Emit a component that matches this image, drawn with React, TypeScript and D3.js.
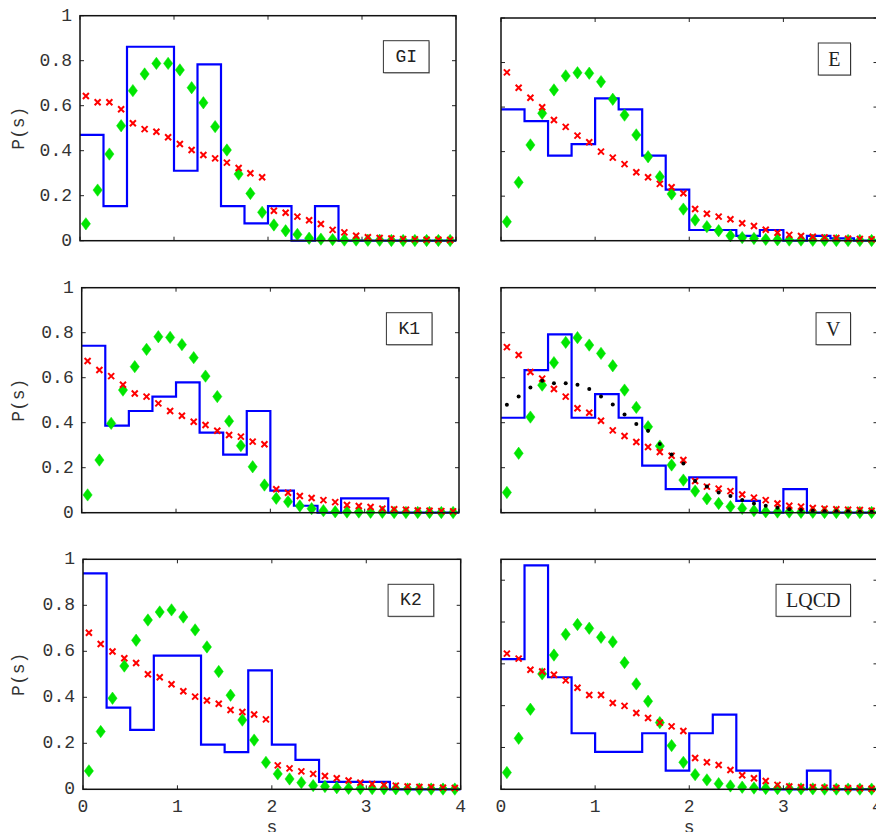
import React from "react";
import * as d3 from "d3";

// ---- shared grids ----
const sCenters = [
  0.0625, 0.1875, 0.3125, 0.4375, 0.5625, 0.6875, 0.8125, 0.9375,
  1.0625, 1.1875, 1.3125, 1.4375, 1.5625, 1.6875, 1.8125, 1.9375,
  2.0625, 2.1875, 2.3125, 2.4375, 2.5625, 2.6875, 2.8125, 2.9375,
  3.0625, 3.1875, 3.3125, 3.4375, 3.5625, 3.6875, 3.8125, 3.9375,
];
const binEdges = [0, 0.25, 0.5, 0.75, 1, 1.25, 1.5, 1.75, 2, 2.25, 2.5, 2.75, 3, 3.25, 3.5, 3.75, 4];
const xTicks = [0, 1, 2, 3, 4];
const yTicks = [0, 0.2, 0.4, 0.6, 0.8, 1];

// ---- GI ----
const giHist = [0.47, 0.154, 0.862, 0.862, 0.311, 0.784, 0.154, 0.077, 0.154, 0, 0.154, 0, 0, 0, 0, 0];
const giGreen = [0.075, 0.225, 0.385, 0.511, 0.667, 0.741, 0.788, 0.788, 0.759, 0.68, 0.613, 0.507, 0.403, 0.296, 0.21, 0.126,
  0.07, 0.044, 0.028, 0.011, 0.007, 0.005, 0.003, 0.003, 0.002, 0.002, 0.001, 0.001, 0.001, 0.001, 0.001, 0.001];
const giRed = [0.643, 0.615, 0.615, 0.584, 0.522, 0.496, 0.484, 0.46, 0.43, 0.403, 0.381, 0.366, 0.347, 0.323, 0.3, 0.282,
  0.133, 0.124, 0.107, 0.091, 0.074, 0.048, 0.037, 0.022, 0.015, 0.012, 0.01, 0.007, 0.006, 0.004, 0.004, 0.003];

// ---- E ----
const eHist = [0.59, 0.537, 0.382, 0.434, 0.639, 0.59, 0.382, 0.229, 0.048, 0.048, 0.022, 0.048, 0, 0.022, 0.01, 0];
const eGreen = [0.085, 0.262, 0.43, 0.572, 0.677, 0.74, 0.754, 0.752, 0.714, 0.635, 0.564, 0.475, 0.377, 0.287, 0.21, 0.142,
  0.093, 0.063, 0.045, 0.022, 0.014, 0.01, 0.006, 0.004, 0.003, 0.003, 0.002, 0.002, 0.001, 0.001, 0.001, 0.001];
const eRed = [0.756, 0.687, 0.642, 0.599, 0.542, 0.511, 0.472, 0.442, 0.4, 0.373, 0.344, 0.307, 0.285, 0.255, 0.24, 0.213,
  0.142, 0.121, 0.108, 0.096, 0.078, 0.066, 0.049, 0.036, 0.026, 0.021, 0.018, 0.015, 0.012, 0.009, 0.008, 0.006];

// ---- K1 ----
const k1Hist = [0.742, 0.387, 0.452, 0.516, 0.579, 0.356, 0.258, 0.452, 0.098, 0.031, 0, 0.064, 0.064, 0, 0, 0];
const k1Green = [0.079, 0.234, 0.397, 0.545, 0.649, 0.726, 0.782, 0.779, 0.747, 0.689, 0.607, 0.516, 0.407, 0.298, 0.204, 0.123,
  0.064, 0.049, 0.03, 0.018, 0.009, 0.004, 0.003, 0.003, 0.002, 0.002, 0.001, 0.001, 0.001, 0.001, 0.001, 0.001];
const k1Red = [0.674, 0.634, 0.607, 0.569, 0.53, 0.516, 0.486, 0.452, 0.431, 0.404, 0.39, 0.364, 0.345, 0.338, 0.316, 0.304,
  0.104, 0.089, 0.074, 0.065, 0.056, 0.047, 0.034, 0.03, 0.025, 0.018, 0.015, 0.013, 0.01, 0.009, 0.007, 0.006];

// ---- V ----
const vHist = [0.422, 0.634, 0.793, 0.422, 0.527, 0.422, 0.209, 0.105, 0.157, 0.157, 0.053, 0, 0.105, 0, 0, 0];
const vGreen = [0.09, 0.264, 0.425, 0.567, 0.667, 0.757, 0.778, 0.745, 0.708, 0.653, 0.545, 0.468, 0.382, 0.296, 0.212, 0.145,
  0.096, 0.062, 0.041, 0.027, 0.019, 0.009, 0.004, 0.003, 0.003, 0.002, 0.002, 0.001, 0.001, 0.001, 0.001, 0.001];
const vRed = [0.736, 0.701, 0.625, 0.596, 0.55, 0.516, 0.464, 0.444, 0.409, 0.366, 0.341, 0.314, 0.292, 0.27, 0.253, 0.234,
  0.141, 0.116, 0.107, 0.096, 0.081, 0.067, 0.056, 0.041, 0.031, 0.027, 0.021, 0.018, 0.015, 0.013, 0.012, 0.009];
const vBlack = [0.48, 0.516, 0.556, 0.587, 0.575, 0.575, 0.569, 0.55, 0.516, 0.481, 0.437, 0.394, 0.364, 0.305, 0.259, 0.219,
  0.141, 0.116, 0.09, 0.074, 0.056, 0.041, 0.031, 0.022, 0.015, 0.012, 0.009, 0.007, 0.006, 0.006, 0.004, 0.004];

// ---- K2 ----
const k2Hist = [0.939, 0.355, 0.258, 0.581, 0.581, 0.194, 0.162, 0.517, 0.194, 0.128, 0.032, 0.032, 0.032, 0, 0, 0];
const k2Green = [0.08, 0.251, 0.396, 0.536, 0.648, 0.736, 0.771, 0.78, 0.749, 0.693, 0.619, 0.512, 0.409, 0.301, 0.214, 0.117,
  0.067, 0.045, 0.029, 0.016, 0.012, 0.007, 0.004, 0.003, 0.003, 0.002, 0.002, 0.001, 0.001, 0.001, 0.001, 0.001];
const k2Red = [0.681, 0.632, 0.599, 0.57, 0.549, 0.5, 0.487, 0.457, 0.426, 0.403, 0.386, 0.372, 0.345, 0.336, 0.325, 0.304,
  0.104, 0.091, 0.078, 0.067, 0.058, 0.048, 0.038, 0.029, 0.023, 0.019, 0.016, 0.012, 0.01, 0.009, 0.007, 0.006];

// ---- LQCD ----
const lqHist = [0.623, 1.071, 0.536, 0.268, 0.179, 0.179, 0.268, 0.089, 0.268, 0.357, 0.089, 0, 0, 0.089, 0, 0];
const lqGreen = [0.08, 0.244, 0.383, 0.552, 0.642, 0.741, 0.788, 0.77, 0.727, 0.705, 0.606, 0.504, 0.421, 0.319, 0.209, 0.129,
  0.07, 0.045, 0.027, 0.016, 0.01, 0.006, 0.004, 0.003, 0.003, 0.002, 0.002, 0.001, 0.001, 0.001, 0.001, 0.001];
const lqRed = [0.649, 0.625, 0.572, 0.563, 0.548, 0.521, 0.486, 0.451, 0.451, 0.413, 0.399, 0.365, 0.341, 0.319, 0.301, 0.279,
  0.15, 0.129, 0.116, 0.092, 0.067, 0.053, 0.04, 0.021, 0.013, 0.01, 0.01, 0.008, 0.006, 0.005, 0.005, 0.003];

const MONO = "'Liberation Mono', 'DejaVu Sans Mono', monospace";
const SERIF = "'Liberation Serif', 'DejaVu Serif', serif";

type PanelProps = {
  x0: number; x1: number; y0: number; y1: number; yMax: number;
  hist: number[]; green: number[]; red: number[]; black?: number[];
  label: string; serif: boolean; leftLabels: boolean; bottomLabels: boolean;
};

function measure(text: string, font: string): number {
  if (typeof document === "undefined") return text.length * 10.8;
  const c = document.createElement("canvas").getContext("2d");
  if (!c) return text.length * 10.8;
  c.font = font;
  return c.measureText(text).width;
}

const fmt = (v: number) => (Math.abs(v - Math.round(v)) < 1e-9 ? String(Math.round(v)) : v.toFixed(1));

function Panel(p: PanelProps) {
  const x = d3.scaleLinear().domain([0, 4]).range([p.x0, p.x1]);
  const y = d3.scaleLinear().domain([0, p.yMax]).range([p.y0, p.y1]);
  const pts: [number, number][] = binEdges.map((e, i) => [e, p.hist[Math.min(i, p.hist.length - 1)]]);
  const line = d3.line<[number, number]>().x((d) => x(d[0])).y((d) => y(d[1])).curve(d3.curveStepAfter);
  const yT = yTicks.filter((t) => t <= p.yMax + 1e-9);
  const fontSize = p.serif ? 20 : 18;
  const fam = p.serif ? SERIF : MONO;
  const tw = measure(p.label, `${fontSize}px ${p.serif ? "Liberation Serif" : "Liberation Mono"}`);
  const bw = tw + (p.serif ? 20 : 24);
  const bh = 32;
  const bx = p.x1 - 27 - bw;
  const by = p.y1 + 25;
  const tl = 4;
  const txt = "#333";
  return (
    <g>
      <defs>
        <clipPath id={`clip-${p.label}`}>
          <rect x={p.x0} y={p.y1 - 2} width={p.x1 - p.x0} height={p.y0 - p.y1 + 4} />
        </clipPath>
      </defs>
      {xTicks.map((t) => (
        <g key={"xt" + t}>
          <line x1={x(t)} x2={x(t)} y1={p.y0} y2={p.y0 - tl} stroke="#222" strokeWidth={1} />
          <line x1={x(t)} x2={x(t)} y1={p.y1} y2={p.y1 + tl} stroke="#222" strokeWidth={1} />
        </g>
      ))}
      {yT.map((t) => (
        <g key={"yt" + t}>
          <line x1={p.x0} x2={p.x0 + tl} y1={y(t)} y2={y(t)} stroke="#222" strokeWidth={1} />
          <line x1={p.x1} x2={p.x1 - tl} y1={y(t)} y2={y(t)} stroke="#222" strokeWidth={1} />
        </g>
      ))}
      <g clipPath={`url(#clip-${p.label})`}>
        <path d={line(pts) || ""} fill="none" stroke="#0000ff" strokeWidth={2.2} />
      </g>
      {p.green.map((v, i) => (
        <path key={"g" + i} transform={`translate(${x(sCenters[i])},${y(v)})`}
          d="M0,-6.2L4.6,0L0,6.2L-4.6,0Z" fill="#00e600" stroke="#00e600" strokeWidth={0.5} />
      ))}
      {p.red.map((v, i) => (
        <path key={"r" + i} transform={`translate(${x(sCenters[i])},${y(v)})`}
          d="M-3,-3L3,3M-3,3L3,-3" stroke="#ff0000" strokeWidth={2} fill="none" />
      ))}
      {p.black && p.black.map((v, i) => (
        <circle key={"b" + i} cx={x(sCenters[i])} cy={y(v)} r={2} fill="#000" />
      ))}
      <rect x={p.x0} y={p.y1} width={p.x1 - p.x0} height={p.y0 - p.y1} fill="none" stroke="#111" strokeWidth={1.5} />
      <rect x={bx + 1} y={by + 1} width={bw} height={bh} fill="#bbb" />
      <rect x={bx} y={by} width={bw} height={bh} fill="#fff" stroke="#333" strokeWidth={1} />
      <text x={bx + bw / 2} y={by + bh / 2} textAnchor="middle" dominantBaseline="central"
        fontFamily={fam} fontSize={fontSize} fill="#222">{p.label}</text>
      {p.leftLabels && yT.map((t) => (
        <text key={"yl" + t} x={p.x0 - 8} y={y(t)} textAnchor="end" dominantBaseline="central"
          fontFamily={MONO} fontSize={18} fill={txt}>{fmt(t)}</text>
      ))}
      {p.leftLabels && (
        <text transform={`translate(19,${(p.y0 + p.y1) / 2}) rotate(-90)`} textAnchor="middle"
          dominantBaseline="central" fontFamily={MONO} fontSize={18} fill={txt}>P(s)</text>
      )}
      {p.bottomLabels && xTicks.map((t) => (
        <text key={"xl" + t} x={x(t)} y={p.y0 + 18} textAnchor="middle" dominantBaseline="central"
          fontFamily={MONO} fontSize={18} fill={txt}>{fmt(t)}</text>
      ))}
      {p.bottomLabels && (
        <text x={(p.x0 + p.x1) / 2} y={p.y0 + 44} textAnchor="middle"
          fontFamily={MONO} fontSize={18} fill={txt}>s</text>
      )}
    </g>
  );
}

export default function App() {
  return (
    <svg width={876} height={832} style={{ position: "absolute", left: 0, top: 0, background: "#fff" }}>
      <rect x={0} y={0} width={876} height={832} fill="#fff" />
      <Panel x0={80} x1={456} y0={240.7} y1={15.7} yMax={1} hist={giHist} green={giGreen} red={giRed}
        label="GI" serif={false} leftLabels={true} bottomLabels={false} />
      <Panel x0={501} x1={877.5} y0={240.7} y1={18} yMax={1} hist={eHist} green={eGreen} red={eRed}
        label="E" serif={true} leftLabels={false} bottomLabels={false} />
      <Panel x0={81.7} x1={459} y0={512.7} y1={287.7} yMax={1} hist={k1Hist} green={k1Green} red={k1Red}
        label="K1" serif={false} leftLabels={true} bottomLabels={false} />
      <Panel x0={501} x1={877.5} y0={512.7} y1={287.7} yMax={1} hist={vHist} green={vGreen} red={vRed} black={vBlack}
        label="V" serif={true} leftLabels={false} bottomLabels={false} />
      <Panel x0={83} x1={460.7} y0={789.3} y1={559.3} yMax={1} hist={k2Hist} green={k2Green} red={k2Red}
        label="K2" serif={false} leftLabels={true} bottomLabels={true} />
      <Panel x0={501} x1={877.5} y0={789.3} y1={559.3} yMax={1.1} hist={lqHist} green={lqGreen} red={lqRed}
        label="LQCD" serif={true} leftLabels={false} bottomLabels={true} />
    </svg>
  );
}
